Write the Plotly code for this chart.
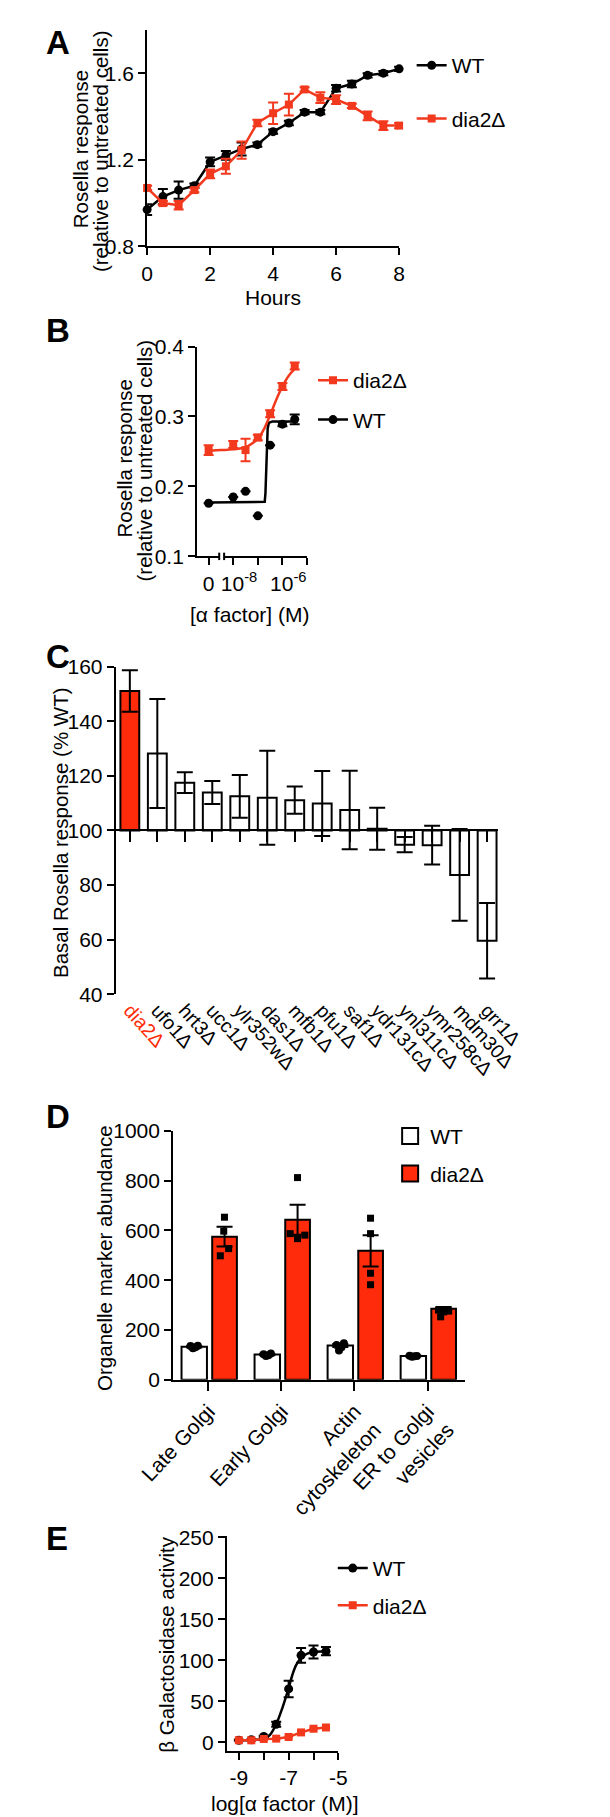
import plotly.graph_objects as go

W, H = 610, 1817
RED = "#FF2B0A"
REDL = "#F2391E"
FONT = "Liberation Sans Narrow, Arial Narrow, Liberation Sans, Arial, sans-serif"
FONT_V = "Liberation Sans, Arial, sans-serif"
TS = 21  # tick / legend / horizontal text size

def px(x):
    return x / W

def py(y):
    return 1 - y / H

# ---------------- Panel A data ----------------
a_hours = [0, 0.5, 1, 1.5, 2, 2.5, 3, 3.5, 4, 4.5, 5, 5.5, 6, 6.5, 7, 7.5, 8]
a_wt = [0.97, 1.03, 1.06, 1.08, 1.19, 1.22, 1.25, 1.27, 1.33, 1.37, 1.42, 1.42, 1.53, 1.55, 1.59, 1.60, 1.62]
a_wt_err = [0.025, 0.035, 0.04, 0.01, 0.02, 0.02, 0.03, 0.01, 0.01, 0.01, 0.01, 0.01, 0.015, 0.015, 0.01, 0.01, 0.01]
a_dia2 = [1.07, 1.00, 0.99, 1.06, 1.135, 1.17, 1.245, 1.37, 1.415, 1.455, 1.525, 1.487, 1.478, 1.449, 1.403, 1.358, 1.358]
a_dia2_err = [0.01, 0.01, 0.02, 0.01, 0.02, 0.035, 0.04, 0.015, 0.05, 0.05, 0.01, 0.025, 0.02, 0.01, 0.02, 0.02, 0.012]
a_yticks = [0.8, 1.2, 1.6]
a_xticks = [0, 2, 4, 6, 8]

# ---------------- Panel B data ----------------
b_x = [-9, -8, -7.5, -7, -6.5, -6, -5.5]          # -9 stands for "0"
b_dia2 = [0.252, 0.260, 0.252, 0.270, 0.304, 0.343, 0.372]
b_dia2_err = [0.007, 0.005, 0.016, 0.004, 0.005, 0.005, 0.005]
b_wt = [0.176, 0.185, 0.193, 0.158, 0.259, 0.289, 0.296]
b_wt_err = [0, 0, 0, 0, 0, 0.003, 0.007]
b_wt_fit_x = [-9, -6.72, -6.69, -6.66, -6.63, -6.6, -6.55, -6.4, -5.5]
b_wt_fit_y = [0.177, 0.178, 0.19, 0.225, 0.262, 0.283, 0.291, 0.293, 0.293]
b_dia2_fit_x = [-9, -8.5, -8, -7.5, -7.25, -7, -6.75, -6.5, -6.25, -6, -5.75, -5.5]
b_dia2_fit_y = [0.251, 0.252, 0.253, 0.256, 0.261, 0.268, 0.282, 0.302, 0.324, 0.343, 0.358, 0.368]
b_xtickvals = [-9, -8, -7, -6, -5]
b_xticktext = ["0", "&nbsp;&nbsp;10<sup>-8</sup>", "", "&nbsp;&nbsp;10<sup>-6</sup>", ""]
b_yticks = [0.1, 0.2, 0.3, 0.4]

# ---------------- Panel C data ----------------
c_genes = ["dia2Δ", "ufo1Δ", "hrt3Δ", "ucc1Δ", "ylr352wΔ", "das1Δ", "mfb1Δ", "pfu1Δ",
           "saf1Δ", "ydr131cΔ", "ynl311cΔ", "ymr258cΔ", "mdm30Δ", "grr1Δ"]
c_vals = [151.1, 128.2, 117.5, 113.9, 112.5, 112.0, 111.1, 109.9, 107.5, 100.6, 94.8, 94.6, 83.7, 59.6]
c_err = [7.6, 20.0, 3.8, 4.2, 7.8, 17.2, 5.0, 11.9, 14.4, 7.7, 2.8, 7.1, 16.8, 13.8]
c_baseline = 100
c_yticks = [40, 60, 80, 100, 120, 140, 160]

# ---------------- Panel D data ----------------
d_groups = ["Late Golgi", "Early Golgi", "Actin<br>cytoskeleton", "ER to Golgi<br>vesicles"]
d_wt = [133, 102, 138, 96]
d_wt_err = [3, 3, 6, 2]
d_dia2 = [575, 643, 518, 285]
d_dia2_err = [40, 60, 63, 8]
d_wt_pts = [[136, 127, 131, 137], [103, 96, 99, 106], [140, 118, 131, 147], [97, 93, 95, 96]]
d_dia2_pts = [[653, 597, 527, 498], [812, 587, 567, 581], [649, 587, 428, 382], [280, 273, 253, 276]]
d_jitter = [-0.05, -0.017, 0.017, 0.05]
d_dia2_jit = [[0.0, -0.01, 0.057, -0.057], [0.0, -0.1, 0.0, 0.1], [0.0, 0.0, 0.0, 0.0], [-0.07, 0.0, -0.04, 0.07]]
d_yticks = [0, 200, 400, 600, 800, 1000]

# ---------------- Panel E data ----------------
e_x = [-9, -8.5, -8, -7.5, -7, -6.5, -6, -5.5]
e_wt = [2.5, 3, 7, 22, 65, 106, 110, 111]
e_wt_err = [0.5, 0.5, 1, 3, 10, 9, 8, 5]
e_dia2 = [2.4, 2.4, 4, 4.4, 6.4, 12, 16.5, 18]
e_dia2_err = [1, 1, 1, 1, 1, 1, 1, 1]
e_fit_x = [-9, -8.5, -8, -7.75, -7.5, -7.25, -7.1, -7, -6.85, -6.7, -6.5, -6.25, -6, -5.5]
e_fit_y = [2.5, 2.8, 4, 9, 22, 42, 56, 66, 82, 94, 103, 108, 110, 111]
e_xtickvals = [-9, -8, -7, -6, -5]
e_xticktext = ["-9", "", "-7", "", "-5"]
e_yticks = [0, 50, 100, 150, 200, 250]

fig = go.Figure()

def eb(arr, w=5, color="black"):
    return dict(type="data", array=arr, visible=True, color=color, thickness=2, width=w)

# ---------- A ----------
fig.add_trace(go.Scatter(x=a_hours, y=a_wt, error_y=eb(a_wt_err, 5), mode="lines+markers",
                         line=dict(color="black", width=2.5), marker=dict(symbol="circle", size=9, color="black"),
                         name="WT", legend="legend", legendgroup="aw", legendrank=1,
                         xaxis="x", yaxis="y", cliponaxis=False))
fig.add_trace(go.Scatter(x=a_hours, y=a_dia2, error_y=eb(a_dia2_err, 5, REDL), mode="lines+markers",
                         line=dict(color=REDL, width=2.5), marker=dict(symbol="square", size=8, color=REDL),
                         name="dia2Δ", legend="legend", legendgroup="ad", legendrank=2,
                         xaxis="x", yaxis="y", cliponaxis=False))

# ---------- B ----------
fig.add_trace(go.Scatter(x=b_wt_fit_x, y=b_wt_fit_y, mode="lines", line=dict(color="black", width=2.5),
                         showlegend=False, xaxis="x2", yaxis="y2", cliponaxis=False))
fig.add_trace(go.Scatter(x=b_dia2_fit_x, y=b_dia2_fit_y, mode="lines", line=dict(color=REDL, width=2.5, shape="spline"),
                         showlegend=False, xaxis="x2", yaxis="y2", cliponaxis=False))
fig.add_trace(go.Scatter(x=b_x, y=b_wt, error_y=eb(b_wt_err, 5), mode="markers",
                         marker=dict(symbol="circle", size=9, color="black"),
                         showlegend=False, xaxis="x2", yaxis="y2", cliponaxis=False))
fig.add_trace(go.Scatter(x=b_x, y=b_dia2, error_y=eb(b_dia2_err, 5, REDL), mode="markers",
                         marker=dict(symbol="square", size=8, color=REDL),
                         showlegend=False, xaxis="x2", yaxis="y2", cliponaxis=False))
fig.add_trace(go.Scatter(x=[None], y=[None], mode="lines+markers", line=dict(color=REDL, width=2.5),
                         marker=dict(symbol="square", size=8, color=REDL), name="dia2Δ",
                         legend="legend2", legendgroup="bd", legendrank=1, xaxis="x2", yaxis="y2"))
fig.add_trace(go.Scatter(x=[None], y=[None], mode="lines+markers", line=dict(color="black", width=2.5),
                         marker=dict(symbol="circle", size=9, color="black"), name="WT",
                         legend="legend2", legendgroup="bw", legendrank=2, xaxis="x2", yaxis="y2"))

# ---------- C ----------
c_colors = [RED] + ["white"] * (len(c_genes) - 1)
fig.add_trace(go.Bar(x=list(range(len(c_genes))), y=[v - c_baseline for v in c_vals], base=c_baseline,
                     width=0.686, marker=dict(color=c_colors, line=dict(color="black", width=2)),
                     showlegend=False, xaxis="x3", yaxis="y3"))
fig.add_trace(go.Scatter(x=list(range(len(c_genes))), y=c_vals, mode="markers",
                         marker=dict(size=1, color="rgba(0,0,0,0)"), error_y=eb(c_err, 8),
                         showlegend=False, xaxis="x4", yaxis="y3", cliponaxis=False))

# ---------- D ----------
d_idx = list(range(len(d_groups)))
fig.add_trace(go.Bar(x=d_idx, y=d_wt, offset=-0.368, width=0.348, error_y=eb(d_wt_err, 8),
                     marker=dict(color="white", line=dict(color="black", width=2)),
                     showlegend=False, xaxis="x5", yaxis="y5"))
fig.add_trace(go.Bar(x=d_idx, y=d_dia2, offset=0.052, width=0.338, error_y=eb(d_dia2_err, 8),
                     marker=dict(color=RED, line=dict(color="black", width=2)),
                     showlegend=False, xaxis="x5", yaxis="y5"))
wx, wy, dx_, dy_ = [], [], [], []
for i in d_idx:
    for j, v in enumerate(d_wt_pts[i]):
        wx.append(i - 0.195 + d_jitter[j]); wy.append(v)
    for j, v in enumerate(d_dia2_pts[i]):
        dx_.append(i + 0.22 + d_dia2_jit[i][j]); dy_.append(v)
fig.add_trace(go.Scatter(x=wx, y=wy, mode="markers", marker=dict(symbol="circle", size=8, color="black"),
                         showlegend=False, xaxis="x5", yaxis="y5", cliponaxis=False))
fig.add_trace(go.Scatter(x=dx_, y=dy_, mode="markers", marker=dict(symbol="square", size=7, color="black"),
                         showlegend=False, xaxis="x5", yaxis="y5", cliponaxis=False))
fig.add_trace(go.Scatter(x=[None], y=[None], mode="markers", name="WT",
                         marker=dict(symbol="square", size=16, color="white", line=dict(color="black", width=2)),
                         legend="legend3", legendgroup="dw", legendrank=1, xaxis="x5", yaxis="y5"))
fig.add_trace(go.Scatter(x=[None], y=[None], mode="markers", name="dia2Δ",
                         marker=dict(symbol="square", size=16, color=RED, line=dict(color="black", width=2)),
                         legend="legend3", legendgroup="dd", legendrank=2, xaxis="x5", yaxis="y5"))

# ---------- E ----------
fig.add_trace(go.Scatter(x=e_fit_x, y=e_fit_y, mode="lines", line=dict(color="black", width=2.5, shape="spline"),
                         showlegend=False, xaxis="x6", yaxis="y6", cliponaxis=False))
fig.add_trace(go.Scatter(x=e_x, y=e_wt, error_y=eb(e_wt_err, 5), mode="markers",
                         marker=dict(symbol="circle", size=9, color="black"),
                         showlegend=False, xaxis="x6", yaxis="y6", cliponaxis=False))
fig.add_trace(go.Scatter(x=[None], y=[None], mode="lines+markers", line=dict(color="black", width=2.5),
                         marker=dict(symbol="circle", size=9, color="black"), name="WT",
                         legend="legend4", legendgroup="ew", legendrank=1, xaxis="x6", yaxis="y6"))
fig.add_trace(go.Scatter(x=e_x, y=e_dia2, error_y=eb(e_dia2_err, 4, REDL), mode="lines+markers",
                         line=dict(color=REDL, width=2.5), marker=dict(symbol="square", size=8, color=REDL),
                         name="dia2Δ", legend="legend4", legendgroup="ed", legendrank=2,
                         xaxis="x6", yaxis="y6", cliponaxis=False))

ax = dict(showline=True, linecolor="black", linewidth=2, ticks="outside", tickcolor="black",
          tickwidth=2, ticklen=7, showgrid=False, zeroline=False,
          tickfont=dict(size=TS, color="black", family=FONT))

def A(**kw):
    d = dict(ax); d.update(kw); return d

leg = dict(font=dict(size=TS, color="black", family=FONT), bgcolor="rgba(0,0,0,0)",
           xanchor="left", yanchor="middle", itemclick=False)

def L(x, y, gap):
    d = dict(leg); d.update(x=px(x), y=py(y), tracegroupgap=gap); return d

fig.update_layout(
    width=W, height=H, margin=dict(l=0, r=0, t=0, b=0),
    paper_bgcolor="white", plot_bgcolor="white",
    font=dict(family=FONT, size=TS, color="black"),
    barmode="overlay", showlegend=True,
    xaxis=A(domain=[px(115), px(396)], range=[0, 8], tickvals=a_xticks, tickangle=0, anchor="y"),
    yaxis=A(domain=[py(229.3), py(10)], range=[0.8, 1.8], tickvals=a_yticks,
            ticktext=["%.1f" % v for v in a_yticks], anchor="x"),
    xaxis2=A(domain=[px(170.7), px(293.3)], range=[-9.47, -5.0], tickvals=b_xtickvals,
             ticktext=b_xticktext, tickangle=0, anchor="y2"),
    yaxis2=A(domain=[py(543.3), py(330.7)], range=[0.1, 0.4], tickvals=b_yticks,
             ticktext=["%.1f" % v for v in b_yticks], anchor="x2"),
    xaxis3=A(domain=[px(80), px(506.7)], range=[-0.513, 13.41], tickvals=list(range(len(c_genes))),
             ticktext=['<span style="color:%s">%s</span>' % (RED, g) if i == 0 else g for i, g in enumerate(c_genes)],
             tickangle=48, showline=False, ticks="", anchor="y3",
             tickfont=dict(size=19.5, color="black", family=FONT)),
    xaxis4=A(range=[-0.513, 13.41], tickvals=list(range(len(c_genes))), overlaying="x3",
             anchor="free", position=py(820.7), showticklabels=False, ticklen=11),
    yaxis3=A(domain=[py(986.7), py(655)], range=[40, 160], tickvals=c_yticks, anchor="x3"),
    xaxis5=A(domain=[px(144), px(469.3)], range=[-0.483, 3.511], tickvals=d_idx, ticktext=d_groups,
             tickangle=-47, ticklen=9, anchor="y5"),
    yaxis5=A(domain=[py(1377.3), py(1125)], range=[0, 1000], tickvals=d_yticks, anchor="x5"),
    xaxis6=A(domain=[px(204), px(328.3)], range=[-9.48, -5.0], tickvals=e_xtickvals,
             ticktext=e_xticktext, tickangle=0, anchor="y6"),
    yaxis6=A(domain=[py(1753.3), py(1535)], range=[-10.8, 252], tickvals=e_yticks, anchor="x6"),
    legend=L(410, 73, 23),
    legend2=L(300, 385, 9),
    legend3=L(386, 1149.5, 7),
    legend4=L(322, 1587, 7),
)

# broken x axis marks (panel B)
fig.add_shape(type="rect", xref="x2", yref="paper", x0=-8.57, x1=-8.37, y0=py(547), y1=py(539.5),
              fillcolor="white", line=dict(width=0), layer="above")
for xb in (-8.57, -8.37):
    fig.add_shape(type="line", xref="x2", yref="paper", x0=xb, x1=xb, y0=py(547), y1=py(539.5),
                  line=dict(color="black", width=2), layer="above")

def ann(x, y, text, size=TS, angle=0, xa="center", ya="middle", color="black", family=FONT):
    fig.add_annotation(x=px(x), y=py(y), xref="paper", yref="paper", text=text, showarrow=False,
                       textangle=angle, xanchor=xa, yanchor=ya,
                       font=dict(size=size, color=color, family=family))

# panel letters
for letter, yy in (("A", 2), ("B", 294), ("C", 624), ("D", 1090), ("E", 1517)):
    ann(0, yy, "<b>%s</b>" % letter, size=33, xa="left", ya="top", family=FONT_V)

# axis titles
ann(40, 131, "Rosella response", size=20.5, angle=-90, family=FONT_V)
ann(63.3, 133, "(relative to untreated cells)", size=20.5, angle=-90, family=FONT_V)
ann(255.7, 281, "Hours")
ann(89.3, 444, "Rosella response", size=20.5, angle=-90, family=FONT_V)
ann(111.7, 446, "(relative to untreated cells)", size=20.5, angle=-90, family=FONT_V)
ann(229.3, 602, "[α factor] (M)")
ann(18.3, 823, "Basal Rosella response (% WT)", size=20.5, angle=-90, family=FONT_V)
ann(66.7, 1254, "Organelle marker abundance", size=20.5, angle=-90, family=FONT_V)
ann(136.7, 1646, "β Galactosidase activity", size=20.5, angle=-90, family=FONT_V)
ann(268.3, 1806, "log[α factor (M)]")

fig.write_html("out.html")
